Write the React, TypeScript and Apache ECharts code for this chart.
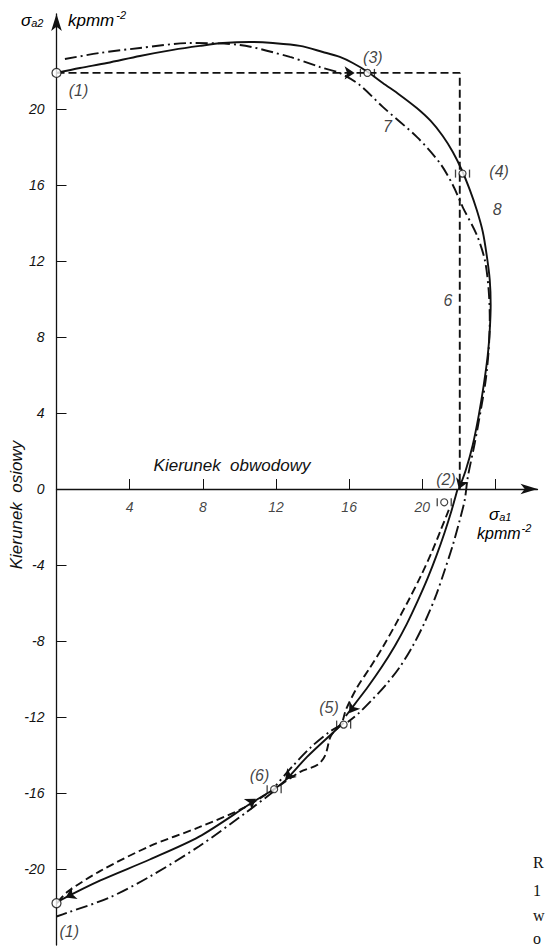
import React, { useEffect, useRef } from "react";
import * as echarts from "echarts";

type P = [number, number];

// axis ticks / labels
const xTickValues = [4, 8, 12, 16, 20, 24];
const xLabelValues = [4, 8, 12, 16, 20];
const yTickValues = [-20, -16, -12, -8, -4, 4, 8, 12, 16, 20];
const yLabelValues = [-20, -16, -12, -8, -4, 0, 4, 8, 12, 16, 20];

// curve 8 (solid)
const solidTop: P[] = [
  [0, 21.9], [1.28, 22.16], [2.76, 22.42], [4.56, 22.79], [6.37, 23.11], [7.84, 23.32],
  [9.1, 23.47], [10.57, 23.53], [11.83, 23.47], [13.31, 23.32], [14.56, 23.0], [15.49, 22.74],
  [16.2, 22.42], [17.02, 21.95], [17.84, 21.37], [18.77, 20.74], [19.7, 20.05], [20.46, 19.37],
  [21.12, 18.58], [21.67, 17.74], [22.16, 16.79], [22.6, 15.74], [22.98, 14.68], [23.31, 13.53],
  [23.52, 12.32], [23.69, 11.0], [23.74, 9.68], [23.69, 8.37], [23.58, 7.05], [23.36, 5.47],
  [23.09, 3.89], [22.76, 2.32], [22.38, 1.0], [22.0, 0],
];
const solidDown: P[] = [
  [21.93, 0], [21.61, -1.1], [21.23, -2.26], [20.79, -3.47], [20.3, -4.68], [19.75, -5.89],
  [19.15, -7.11], [18.5, -8.26], [17.78, -9.37], [17.02, -10.42], [16.31, -11.32], [15.82, -11.95],
];
const solidMid: P[] = [[15.7, -12.3], [15.2, -12.75], [13.7, -14.1], [12.5, -15.35], [11.9, -15.8]];
const solidBottom: P[] = [
  [11.9, -15.8], [10.7, -16.5], [7.8, -18.3], [5.1, -19.5], [2.4, -20.6], [0.3, -21.6], [0, -21.8],
];

// curve 7 (dash-dot)
const dashDotTop: P[] = [
  [0.46, 22.63], [2.38, 22.95], [4.56, 23.21], [7.29, 23.47], [10.03, 23.37], [12.76, 22.74],
  [14.4, 22.21], [15.49, 21.89], [16.58, 21.26], [17.84, 20.11], [19.7, 18.53], [20.96, 17.16],
  [21.67, 16.0], [22.21, 14.84], [22.98, 13.37], [23.42, 12.05], [23.63, 10.47], [23.69, 8.89],
  [23.63, 7.32], [23.47, 5.74], [23.2, 4.16], [22.87, 2.42], [22.49, 0.63], [22.32, -0.58],
  [22.05, -1.63], [21.67, -2.95], [21.23, -4.26], [20.74, -5.63], [20.14, -7.0], [19.48, -8.26],
  [18.77, -9.37], [18.0, -10.32], [17.24, -11.11], [16.48, -11.84], [15.93, -12.26],
];
const dashDotMid: P[] = [[15.6, -12.4], [14.9, -12.8], [13.9, -13.6], [12.9, -14.6], [12.0, -15.6]];
const dashDotBottom: P[] = [
  [11.9, -15.9], [10.4, -17.0], [7.8, -18.8], [5.1, -20.4], [2.9, -21.5], [0.6, -22.3], [0, -22.5],
];

// curve 6 (dashed)
const dashedTop: P[] = [[0, 21.9], [17.0, 21.9], [22.05, 21.9], [22.05, 0]];
const dashedDown: P[] = [
  [21.45, -1.1], [21.01, -2.16], [20.52, -3.32], [19.92, -4.58], [19.26, -5.84], [18.55, -7.11],
  [17.84, -8.32], [17.13, -9.42], [16.42, -10.47], [15.82, -11.63], [15.6, -12.3], [15.0, -13.0],
  [14.7, -14.0], [14.3, -14.5], [13.3, -14.9], [11.9, -15.8], [10.2, -16.8], [7.8, -17.8],
  [5.1, -18.8], [2.4, -20.1], [0.6, -21.2], [0.1, -21.7],
];

// arrow heads (segment from -> to)
const arrowSegments: [P, P][] = [
  [[22.38, 1.0], [22.0, 0]],
  [[16.8, -10.7], [16.0, -11.8]],
  [[13.7, -14.1], [12.5, -15.3]],
  [[9.0, -17.6], [10.9, -16.3]],
  [[2.4, -20.6], [0.5, -21.5]],
  [[14.0, 21.9], [16.3, 21.9]],
];

// measuring points
const bigMarkers: P[] = [[0, 21.9], [0, -21.8]];
const smallMarkers: P[] = [[17.0, 21.9], [22.2, 16.6], [21.2, -0.7], [15.7, -12.4], [11.9, -15.8]];

// annotations
const labelTexts = ["(1)", "(3)", "(4)", "(2)", "(5)", "(6)", "(1)", "7", "8", "6"];
const labelCoords: P[] = [
  [1.2, 21.0], [17.3, 22.7], [24.2, 16.7], [21.3, 0.5], [14.9, -11.5], [11.1, -15.1],
  [0.7, -23.3], [18.1, 19.1], [24.1, 14.7], [21.4, 9.9],
];

const FONT = "'Liberation Sans', Arial, sans-serif";
const INK = "#111";

export default function App() {
  const ref = useRef<HTMLDivElement>(null);
  useEffect(() => {
    if (!ref.current) return;
    const chart = echarts.init(ref.current, null, { renderer: "svg" });
    const lw = 1.9;
    const dashed = [8, 4];
    const dashDot = [12, 4, 2, 4];
    const lineSeries = (data: P[], type: any, smooth: number | boolean) => ({
      type: "line",
      data,
      smooth,
      showSymbol: false,
      symbol: "none",
      lineStyle: { color: INK, width: lw, type },
      silent: true,
      z: 3,
    });
    const txt = { color: INK, fontStyle: "italic", fontFamily: FONT };
    chart.setOption({
      animation: false,
      backgroundColor: "#fff",
      grid: { left: 56.5, top: 14, width: 481, height: 931 },
      xAxis: {
        type: "value",
        min: 0,
        max: 26.3,
        interval: 4,
        axisLine: {
          onZero: true,
          symbol: ["none", "arrow"],
          symbolSize: [8, 17],
          lineStyle: { color: INK, width: 1.3 },
        },
        axisTick: { inside: true, length: 10, customValues: xTickValues, lineStyle: { color: INK, width: 1 } },
        axisLabel: { show: false },
        splitLine: { show: false },
      },
      yAxis: {
        type: "value",
        min: -24,
        max: 25,
        interval: 4,
        axisLine: {
          onZero: false,
          symbol: ["none", "arrow"],
          symbolSize: [8, 17],
          lineStyle: { color: INK, width: 1.3 },
        },
        axisTick: { inside: true, length: 10, customValues: yTickValues, lineStyle: { color: INK, width: 1 } },
        axisLabel: { customValues: yLabelValues, margin: 12, fontSize: 14, ...txt },
        splitLine: { show: false },
      },
      series: [
        lineSeries(solidTop, "solid", 0.3),
        lineSeries(solidDown, "solid", 0.3),
        lineSeries(solidMid, "solid", 0.3),
        lineSeries(solidBottom, "solid", 0.3),
        lineSeries(dashDotTop, dashDot, 0.3),
        lineSeries(dashDotMid, dashDot, 0.3),
        lineSeries(dashDotBottom, dashDot, 0.3),
        lineSeries(dashedTop, dashed, false),
        lineSeries(dashedDown, dashed, 0.3),
        {
          type: "lines",
          coordinateSystem: "cartesian2d",
          data: arrowSegments.map((s) => ({ coords: s })),
          symbol: ["none", "arrow"],
          symbolSize: 10,
          lineStyle: { color: INK, width: 0, opacity: 1 },
          silent: true,
          z: 4,
        },
        {
          type: "scatter",
          data: smallMarkers,
          symbol: "rect",
          symbolSize: [1.3, 8],
          symbolOffset: [-7, 0],
          itemStyle: { color: INK },
          silent: true,
          z: 5,
        },
        {
          type: "scatter",
          data: smallMarkers,
          symbol: "rect",
          symbolSize: [1.3, 8],
          symbolOffset: [7, 0],
          itemStyle: { color: INK },
          silent: true,
          z: 5,
        },
        {
          type: "scatter",
          data: smallMarkers,
          symbol: "circle",
          symbolSize: 7,
          itemStyle: { color: "#fff", borderColor: INK, borderWidth: 1.2 },
          silent: true,
          z: 6,
        },
        {
          type: "scatter",
          data: bigMarkers,
          symbol: "circle",
          symbolSize: 9,
          itemStyle: { color: "#fff", borderColor: INK, borderWidth: 1.3 },
          silent: true,
          z: 6,
        },
        {
          // x-axis tick labels, placed on the zero line
          type: "scatter",
          data: xLabelValues.map((v) => ({ name: String(v), value: [v, 0] })),
          symbolSize: 0,
          silent: true,
          z: 7,
          label: { show: true, position: "bottom", distance: 11, formatter: "{b}", fontSize: 14, ...txt },
        },
        {
          type: "scatter",
          data: labelCoords.map((c, i) => ({ name: labelTexts[i], value: c })),
          symbolSize: 0,
          silent: true,
          z: 7,
          label: { show: true, position: "inside", formatter: "{b}", fontSize: 16, ...txt },
        },
      ],
      graphic: [
        {
          type: "text",
          x: 21,
          y: 20,
          style: {
            text: "{s|σ}{sub|a2}",
            verticalAlign: "middle",
            textVerticalAlign: "middle",
            rich: {
              s: { fontSize: 17, ...txt },
              sub: { fontSize: 11, ...txt, verticalAlign: "bottom", padding: [6, 0, 0, 0] },
            },
          },
        },
        {
          type: "text",
          x: 68,
          y: 19,
          style: {
            text: "{t|kpmm}{sup|-2}",
            verticalAlign: "middle",
            textVerticalAlign: "middle",
            rich: {
              t: { fontSize: 17, ...txt, verticalAlign: "bottom" },
              sup: { fontSize: 11, ...txt, verticalAlign: "top", padding: [0, 0, 8, 2] },
            },
          },
        },
        {
          type: "text",
          x: 489,
          y: 514,
          style: {
            text: "{s|σ}{sub|a1}",
            verticalAlign: "middle",
            textVerticalAlign: "middle",
            rich: {
              s: { fontSize: 17, ...txt },
              sub: { fontSize: 11, ...txt, verticalAlign: "bottom", padding: [6, 0, 0, 0] },
            },
          },
        },
        {
          type: "text",
          x: 477,
          y: 532,
          style: {
            text: "{t|kpmm}{sup|-2}",
            verticalAlign: "middle",
            textVerticalAlign: "middle",
            rich: {
              t: { fontSize: 16, ...txt, verticalAlign: "bottom" },
              sup: { fontSize: 11, ...txt, verticalAlign: "top", padding: [0, 0, 8, 1] },
            },
          },
        },
        {
          type: "text",
          x: 232,
          y: 465,
          style: {
            text: "Kierunek  obwodowy",
            align: "center",
            textAlign: "center",
            verticalAlign: "middle",
            textVerticalAlign: "middle",
            fontSize: 17,
            fontStyle: "italic",
            fontFamily: FONT,
            fill: INK,
          },
        },
        {
          type: "text",
          x: 16,
          y: 505,
          rotation: Math.PI / 2,
          style: {
            text: "Kierunek  osiowy",
            align: "center",
            textAlign: "center",
            verticalAlign: "middle",
            textVerticalAlign: "middle",
            fontSize: 17,
            fontStyle: "italic",
            fontFamily: FONT,
            fill: INK,
          },
        },
        ...[
          ["R", 862],
          ["1", 890],
          ["w", 915],
          ["o", 938],
        ].map(([t, y]) => ({
          type: "text",
          x: 533,
          y: y as number,
          style: {
            text: t as string,
            verticalAlign: "middle",
            textVerticalAlign: "middle",
            fontSize: 16,
            fontFamily: "'Liberation Serif', serif",
            fill: INK,
          },
        })),
      ],
    });
    return () => chart.dispose();
  }, []);
  return (
    <div
      ref={ref}
      style={{ position: "fixed", left: 0, top: 0, width: 546, height: 947, background: "#fff" }}
    />
  );
}
